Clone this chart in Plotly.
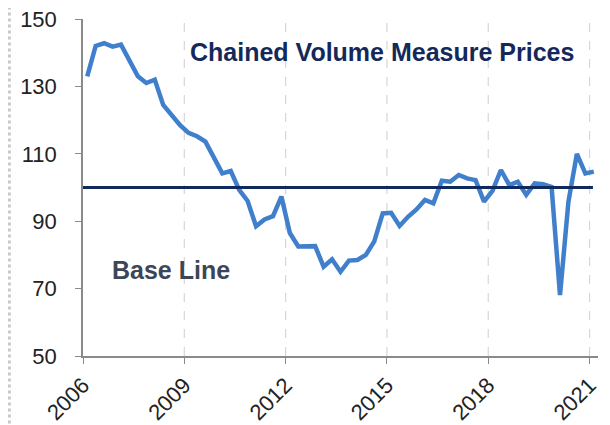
import plotly.graph_objects as go

# Quarterly index, 2006 Q1 .. 2021 Q1 (plotted at quarter midpoints)
start_year = 2006
values = [133, 142, 142.8, 141.8, 142.4, 137.5, 133, 131, 132, 124.5,
          121.5, 118.5, 116.2, 115.2, 113.6, 109, 104.2, 104.9, 99.3, 96,
          88.5, 90.5, 91.5, 97.3, 86.5, 82.5, 82.6, 82.6, 76.5, 78.7,
          75, 78.3, 78.5, 80, 84, 92.3, 92.5, 88.6, 91.3, 93.5,
          96.3, 95.3, 102, 101.7, 103.7, 102.7, 102.2, 95.8, 99, 105.2,
          100.7, 101.7, 97.8, 101.2, 101, 100.2, 68.1, 95.8, 110, 104.2,
          104.7]
x_vals = [start_year + 0.125 + 0.25 * i for i in range(len(values))]
base_value = 100
tick_years = [2006, 2009, 2012, 2015, 2018, 2021]
y_ticks = [50, 70, 90, 110, 130, 150]

fig = go.Figure()
fig.add_trace(go.Scatter(
    x=x_vals, y=values, mode="lines",
    line=dict(color="#3f7fcc", width=4.5), hoverinfo="skip", showlegend=False))

fig.add_shape(type="line", xref="x", yref="y", x0=2006, x1=2021.1,
              y0=base_value, y1=base_value,
              line=dict(color="#0f2a5e", width=3))

for yr in tick_years[1:]:
    fig.add_shape(type="line", xref="x", yref="paper", x0=yr, x1=yr, y0=0, y1=1,
                  line=dict(color="#d6d6d6", width=1.2, dash="dash"), layer="below")

# dotted border at left edge
fig.add_shape(type="line", xref="paper", yref="paper", x0=-0.143, x1=-0.143,
              y0=-0.2, y1=1.04, line=dict(color="#c8c8c8", width=3, dash="dot"))

fig.add_annotation(x=2014.85, y=140.2, xref="x", yref="y", showarrow=False,
                   text="<b>Chained Volume Measure Prices</b>",
                   font=dict(family="Liberation Sans, Arial", size=25, color="#14295a"))
fig.add_annotation(x=2008.6, y=75.5, xref="x", yref="y", showarrow=False,
                   text="<b>Base Line</b>",
                   font=dict(family="Liberation Sans, Arial", size=25, color="#3d4656"))

fig.update_layout(
    width=602, height=417,
    margin=dict(l=75, r=12, t=11, b=69),
    paper_bgcolor="white", plot_bgcolor="white",
    font=dict(family="Liberation Sans, Arial", size=21, color="#222222"),
    xaxis=dict(range=[2006, 2021.25], tickvals=tick_years,
               ticktext=[str(t) for t in tick_years], tickangle=-45,
               tickfont=dict(size=22), automargin=False,
               ticklabeloverflow="allow",
               showgrid=False, zeroline=False, showline=True,
               linecolor="#8a8a8a", linewidth=1.5, ticks="outside",
               ticklen=6, tickcolor="#8a8a8a"),
    yaxis=dict(range=[50, 150], tickvals=y_ticks, showgrid=False,
               tickfont=dict(size=22), automargin=False,
               ticklabeloverflow="allow",
               zeroline=False, showline=True, linecolor="#8a8a8a",
               linewidth=1.5, ticks="outside", ticklen=6,
               tickcolor="#8a8a8a", ticklabelstandoff=14),
)

fig.write_html("out.html")
